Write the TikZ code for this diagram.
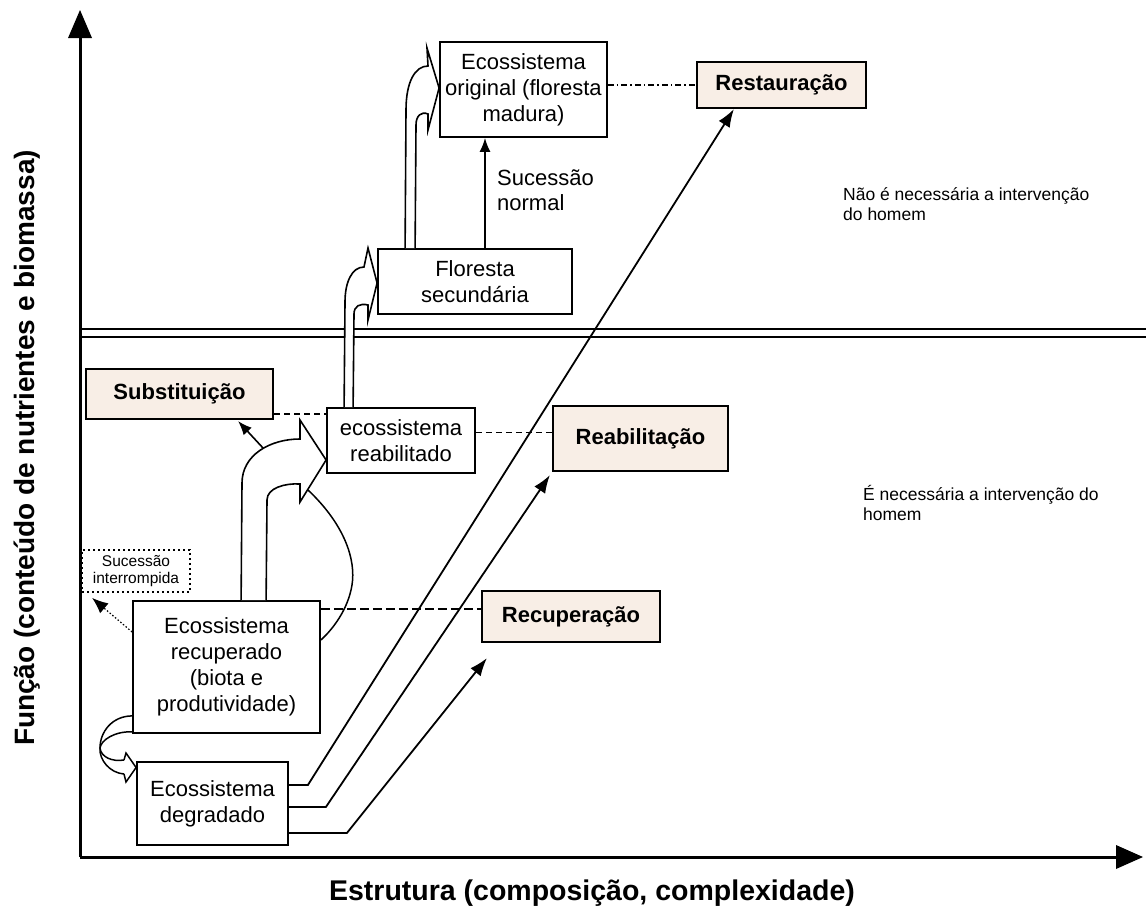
\documentclass[tikz,border=0pt]{standalone}
\usepackage{fontspec}
\setmainfont{Liberation Sans}
\usetikzlibrary{arrows.meta,calc}
\definecolor{shade}{RGB}{248,238,230}
\begin{document}
\begin{tikzpicture}[x=1pt,y=-1pt,
  box/.style={draw, line width=1.8pt, fill=white, align=center, inner sep=0pt,
    font=\fontsize{22}{26}\selectfont},
  lab/.style={draw, line width=2.2pt, fill=shade, inner sep=0pt,
    font=\fontsize{22}{26}\selectfont\bfseries},
  txt/.style={inner sep=0pt, font=\fontsize{22}{26}\selectfont},
  small/.style={inner sep=0pt, font=\fontsize{17.5}{20}\selectfont},
  arr/.style={line width=1.8pt, -{Latex[length=18pt,width=13pt]}},
  sarr/.style={line width=1.6pt, -{Latex[length=14pt,width=11pt]}},
  hollow/.style={line width=1.6pt, fill=white, line join=miter},
  thin/.style={line width=1.5pt},
  dashline/.style={line width=1.6pt, dash pattern=on 6pt off 4pt},
  axis/.style={line width=3pt}]
\useasboundingbox (0,0) rectangle (1146,918);

% axes
\coordinate (O) at (80,857);
\coordinate (Ytip) at (80,10);
\coordinate (Xtip) at (1143,857);
\draw[axis] (O) -- ($(Ytip)+(0,26)$);
\fill ($(Ytip)+(-12,28)$) -- (Ytip) -- ($(Ytip)+(12,28)$) -- cycle;
\draw[axis] (O) -- ($(Xtip)+(-25,0)$);
\fill ($(Xtip)+(-27,-12)$) -- (Xtip) -- ($(Xtip)+(-27,12)$) -- cycle;

% double separating line
\draw[line width=2.5pt] (80,329) -- (1146,329);
\draw[line width=2.5pt] (80,337) -- (1146,337);

% axis labels
\node[rotate=90, inner sep=0pt, font=\fontsize{28}{30}\selectfont\bfseries] (ylab) at (27,448)
  {Função (conteúdo de nutrientes e biomassa)};
\node[inner sep=0pt, font=\fontsize{28.5}{30}\selectfont\bfseries] (xlab) at (592,893)
  {Estrutura (composição, complexidade)};

% region texts
\node[small, anchor=base west] (n1) at (843,200) {Não é necessária a intervenção};
\node[small, anchor=base west] (n2) at (843,220) {do homem};
\node[small, anchor=base west] (e1) at (863,500) {É necessária a intervenção do};
\node[small, anchor=base west] (e2) at (863,520) {homem};

% boxes
\node[box, minimum width=167pt, minimum height=95pt] (orig) at (523.5,89.5)
  {Ecossistema\\original (floresta\\madura)};
\node[lab, minimum width=169pt, minimum height=46pt] (rest) at (781.5,85) {Restauração};
\node[box, minimum width=194pt, minimum height=65pt] (flor) at (475,281.5)
  {Floresta\\secundária};
\node[lab, minimum width=187pt, minimum height=50pt] (subs) at (179.5,394) {Substituição};
\node[box, minimum width=148pt, minimum height=65pt] (reab) at (401,440.5)
  {ecossistema\\reabilitado};
\node[lab, minimum width=175pt, minimum height=65pt] (reabl) at (640.5,438.5) {Reabilitação};
\node[draw, line width=1.8pt, dash pattern=on 2pt off 3pt, fill=white, align=center,
  inner sep=0pt, minimum width=108pt, minimum height=42pt,
  font=\fontsize{15.5}{17}\selectfont] (suci) at (136,571) {Sucessão\\interrompida};
\node[box, minimum width=187pt, minimum height=132pt] (recu) at (226.5,667)
  {Ecossistema\\recuperado\\(biota e\\produtividade)};
\node[lab, minimum width=178pt, minimum height=51pt] (recp) at (571,616.5) {Recuperação};
\node[box, minimum width=151pt, minimum height=83pt] (degr) at (212.5,803.5)
  {Ecossistema\\degradado};

% Sucessão normal
\draw[sarr] ([xshift=10pt]flor.north) -- ([xshift=10pt]flor.north |- orig.south);
\node[txt, anchor=base west] (sn1) at (497,185) {Sucessão};
\node[txt, anchor=base west] (sn2) at (497,210) {normal};

% dashed links
\draw[line width=1.5pt, dash pattern=on 6pt off 3pt on 1.5pt off 3pt]
  (rest.west -| orig.east) -- (rest.west);
\draw[dashline] ([yshift=6pt]subs.south east) -- ([yshift=6pt]subs.south east -| reab.west);
\draw[dashline] ([yshift=8pt]reab.east) -- ([yshift=8pt]reab.east -| reabl.west);
\draw[line width=1.6pt, dash pattern=on 9pt off 4pt]
  ([yshift=-9pt]recu.north east) -- ([yshift=-9pt]recu.north east -| recp.west);

% arrows from degraded ecosystem
\coordinate (tip1) at ($(rest.south west)+(38,0)$);
\coordinate (tip2) at ($(reabl.south west)+(-2,3)$);
\coordinate (tip3) at ($(recp.south west)+(6,15)$);
\draw[arr, line join=miter] ([yshift=18.5pt]degr.east) -- ++(19,0) -- (tip1);
\draw[arr, line join=miter] ([yshift=-3.5pt]degr.east) -- ++(37,0) -- (tip2);
\draw[arr, line join=miter] ([yshift=-29.5pt]degr.east) -- ++(58,0) -- (tip3);

% hollow arrow: floresta secundaria -> ecossistema original
\draw[hollow] ($(flor.north west)+(28,0)$) -- (406,110)
  .. controls (406,82) and (415,66) .. (428,66) -- (427,48) -- (orig.west |- 0,88)
  -- (428,130) -- (428,114) .. controls (421,111) and (416,116) .. (416,125)
  -- ($(flor.north west)+(38,0)$);

% hollow arrow: ecossistema reabilitado -> floresta secundaria
\draw[hollow] ($(reab.north west)+(18,0)$) -- (345,302)
  .. controls (345,282) and (352,267) .. (364,267) -- (368,248) -- (flor.west |- 0,283)
  -- (368,320) -- (368,305) .. controls (360,303) and (354,306) .. (354,314)
  -- ($(reab.north west)+(27,0)$);

% hollow arrow: ecossistema recuperado -> ecossistema reabilitado
\draw[hollow] ($(recu.north west)+(109,0)$) -- (242,483)
  .. controls (242,455) and (270,439) .. (300,439) -- (300,420) -- (reab.west |- 0,460)
  -- (300,502) -- (300,484) .. controls (285,483) and (267,488) .. (267,500)
  -- ($(recu.north west)+(134,0)$);
\draw[thin] (308,490) .. controls (345,525) and (356,560) .. (352,585)
  .. controls (348,610) and (332,630) .. ([yshift=27pt]recu.east);

% arrow to Substituição
\coordinate (sst) at (263,448);
\draw[sarr] (sst) -- ($(subs.south east)+(-36,1)$);

% dotted arrow to Sucessão interrompida
\draw[line width=1.2pt, dash pattern=on 1.5pt off 2pt, -{Latex[length=16pt,width=13pt]}]
  ([yshift=35pt]recu.west) -- ($(suci.south west)+(11,5)$);

% loop arrow: recuperado -> degradado
\draw[thin] ([yshift=18pt]recu.south west) .. controls (112,716) and (100,732) .. (100,748)
  .. controls (101,757) and (112,762) .. (124,760);
\draw[thin] ([yshift=2pt]recu.south west) .. controls (115,731) and (101,740) .. (100,748)
  .. controls (99,760) and (110,773) .. (124,774);
\draw[thin, line join=miter] (124,760) -- (126,753) -- ($(degr.west)+(0,-36)$) -- (126,782) -- (124,774);
\end{tikzpicture}
\end{document}
